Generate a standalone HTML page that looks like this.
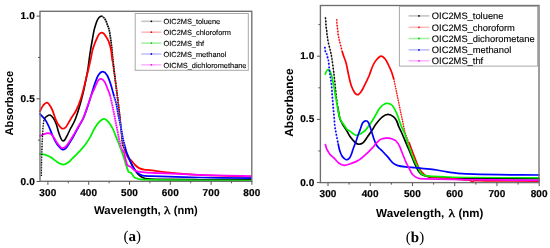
<!DOCTYPE html>
<html><head><meta charset="utf-8"><style>
html,body{margin:0;padding:0;background:#fff;width:550px;height:248px;overflow:hidden}
svg{display:block;will-change:transform;text-rendering:geometricPrecision}
.tl{font-family:"Liberation Sans",sans-serif;font-weight:bold;fill:#000;stroke:#000;stroke-width:0.2;letter-spacing:0.15px}
.ti{font-family:"Liberation Sans",sans-serif;font-weight:bold;fill:#000}
.lg{font-family:"Liberation Sans",sans-serif;fill:#000;stroke:#000;stroke-width:0.12}
.gk{font-family:"Liberation Serif",serif;font-weight:normal;fill:#000;stroke:#000;stroke-width:0.35}
.cap{font-family:"Liberation Serif",serif;fill:#000}
</style></head><body>
<svg width="550" height="248" viewBox="0 0 550 248">
<rect width="550" height="248" fill="#fff"/>
<path d="M44.60 118.40 C44.93 118.07 45.70 116.97 46.60 116.40 C47.50 115.83 48.83 114.65 50.00 115.00 C51.17 115.35 52.55 116.98 53.60 118.50 C54.65 120.02 55.53 122.02 56.30 124.10 C57.07 126.18 57.52 128.82 58.20 131.00 C58.88 133.18 59.72 135.60 60.40 137.20 C61.08 138.80 61.57 140.15 62.30 140.60 C63.03 141.05 63.93 140.87 64.80 139.90 C65.67 138.93 66.58 136.62 67.50 134.80 C68.42 132.98 68.92 131.80 70.30 129.00 C71.68 126.20 73.75 123.67 75.80 118.00 C77.85 112.33 80.67 102.67 82.60 95.00 C84.53 87.33 86.32 77.83 87.40 72.00 C88.48 66.17 88.58 63.62 89.10 60.00 C89.62 56.38 89.97 53.63 90.50 50.30 C91.03 46.97 91.70 43.35 92.30 40.00 C92.90 36.65 93.52 32.83 94.10 30.20 C94.68 27.57 95.25 25.90 95.80 24.20 C96.35 22.50 96.82 21.17 97.40 20.00 C97.98 18.83 98.65 17.83 99.30 17.20 C99.95 16.57 100.62 16.20 101.30 16.20" fill="none" stroke-linejoin="round" stroke="#000" stroke-width="1.6" stroke-linecap="round"/><path d="M132.30 165.80 C133.33 167.68 134.17 169.03 135.20 170.50 C136.23 171.97 137.28 173.45 138.50 174.60 C139.72 175.75 140.92 176.68 142.50 177.40 C144.08 178.12 145.08 178.57 148.00 178.90 C150.92 179.23 151.33 179.27 160.00 179.40 C168.67 179.53 184.83 179.62 200.00 179.70 C215.17 179.78 242.50 179.87 251.00 179.90" fill="none" stroke-linejoin="round" stroke="#000" stroke-width="1.6" stroke-linecap="round"/><path d="M101.30 16.20 C101.98 16.20 102.68 16.53 103.40 17.20 C104.12 17.87 104.92 18.90 105.60 20.20 C106.28 21.50 106.90 23.33 107.50 25.00 C108.10 26.67 108.65 27.70 109.20 30.20 C109.75 32.70 110.33 36.65 110.80 40.00 C111.27 43.35 111.65 46.97 112.00 50.30 C112.35 53.63 112.35 55.05 112.90 60.00 C113.45 64.95 114.52 73.67 115.30 80.00 C116.08 86.33 116.88 92.17 117.60 98.00 C118.32 103.83 119.00 109.67 119.60 115.00 C120.20 120.33 120.70 125.17 121.20 130.00 C121.70 134.83 122.08 140.92 122.60 144.00 C123.12 147.08 123.72 147.00 124.30 148.50 C124.88 150.00 125.32 151.22 126.10 153.00 C126.88 154.78 127.97 157.07 129.00 159.20 C130.03 161.33 131.27 163.92 132.30 165.80" fill="none" stroke-linejoin="round" stroke="#8a8a8a" stroke-width="1.6"/><path d="M101.30 16.20 C101.98 16.20 102.68 16.53 103.40 17.20 C104.12 17.87 104.92 18.90 105.60 20.20 C106.28 21.50 106.90 23.33 107.50 25.00 C108.10 26.67 108.65 27.70 109.20 30.20 C109.75 32.70 110.33 36.65 110.80 40.00 C111.27 43.35 111.65 46.97 112.00 50.30 C112.35 53.63 112.35 55.05 112.90 60.00 C113.45 64.95 114.52 73.67 115.30 80.00 C116.08 86.33 116.88 92.17 117.60 98.00 C118.32 103.83 119.00 109.67 119.60 115.00 C120.20 120.33 120.70 125.17 121.20 130.00 C121.70 134.83 122.08 140.92 122.60 144.00 C123.12 147.08 123.72 147.00 124.30 148.50 C124.88 150.00 125.32 151.22 126.10 153.00 C126.88 154.78 127.97 157.07 129.00 159.20 C130.03 161.33 131.27 163.92 132.30 165.80" fill="none" stroke-linejoin="round" stroke="#000" stroke-width="1.6" stroke-dasharray="1.3 1.1" stroke-dashoffset="0"/>

<path d="M40.00 111.20 C40.53 110.25 42.00 106.93 43.20 105.50 C44.40 104.07 45.75 102.02 47.20 102.60 C48.65 103.18 50.47 106.15 51.90 109.00 C53.33 111.85 54.73 117.10 55.80 119.70 C56.87 122.30 57.30 123.13 58.30 124.60 C59.30 126.07 60.63 128.00 61.80 128.50 C62.97 129.00 64.25 128.42 65.30 127.60 C66.35 126.78 67.02 125.33 68.10 123.60 C69.18 121.87 70.47 119.38 71.80 117.20 C73.13 115.02 74.57 113.67 76.10 110.50 C77.63 107.33 79.38 103.28 81.00 98.20 C82.62 93.12 84.28 86.03 85.80 80.00 C87.32 73.97 88.98 66.95 90.10 62.00 C91.22 57.05 91.82 53.13 92.50 50.30 C93.18 47.47 93.60 46.68 94.20 45.00 C94.80 43.32 95.43 41.77 96.10 40.20 C96.77 38.63 97.55 36.73 98.20 35.60 C98.85 34.47 99.40 33.88 100.00 33.40 C100.60 32.92 101.17 32.67 101.80 32.70 C102.43 32.73 103.13 33.02 103.80 33.60 C104.47 34.18 105.07 35.07 105.80 36.20 C106.53 37.33 107.53 38.93 108.20 40.40 C108.87 41.87 109.32 43.35 109.80 45.00 C110.28 46.65 110.68 47.80 111.10 50.30 C111.52 52.80 111.62 55.05 112.30 60.00" fill="none" stroke-linejoin="round" stroke="#ff0000" stroke-width="1.75" stroke-linecap="round"/><path d="M125.20 150.00 C126.03 152.67 126.87 155.23 127.90 157.00 C128.93 158.77 130.20 159.27 131.40 160.60 C132.60 161.93 133.82 163.75 135.10 165.00 C136.38 166.25 137.58 167.33 139.10 168.10 C140.62 168.87 142.05 169.22 144.20 169.60 C146.35 169.98 147.70 169.88 152.00 170.40 C156.30 170.92 162.00 171.93 170.00 172.70 C178.00 173.47 186.50 174.33 200.00 175.00 C213.50 175.67 242.50 176.42 251.00 176.70" fill="none" stroke-linejoin="round" stroke="#ff0000" stroke-width="1.75" stroke-linecap="round"/><path d="M112.30 60.00 C112.98 64.95 114.32 73.67 115.20 80.00 C116.08 86.33 116.87 92.17 117.60 98.00 C118.33 103.83 119.00 109.67 119.60 115.00 C120.20 120.33 120.65 125.67 121.20 130.00 C121.75 134.33 122.23 137.67 122.90 141.00 C123.57 144.33 124.37 147.33 125.20 150.00" fill="none" stroke-linejoin="round" stroke="#ff0000" stroke-width="1.7" stroke-dasharray="1.2 1.3" stroke-dashoffset="0"/>

<path d="M40.00 154.00 C40.58 154.07 42.42 154.18 43.50 154.40 C44.58 154.62 45.42 154.90 46.50 155.30 C47.58 155.70 48.75 156.08 50.00 156.80 C51.25 157.52 52.67 158.63 54.00 159.60 C55.33 160.57 56.43 161.77 58.00 162.60 C59.57 163.43 61.73 164.60 63.40 164.60 C65.07 164.60 66.57 163.55 68.00 162.60 C69.43 161.65 70.02 160.85 72.00 158.90 C73.98 156.95 77.73 153.22 79.90 150.90 C82.07 148.58 83.32 147.25 85.00 145.00 C86.68 142.75 88.47 140.07 90.00 137.40 C91.53 134.73 92.78 131.45 94.20 129.00 C95.62 126.55 96.85 124.38 98.50 122.70 C100.15 121.02 102.47 119.03 104.10 118.90 C105.73 118.77 106.88 120.33 108.30 121.90 C109.72 123.47 111.30 125.82 112.60 128.30 C113.90 130.78 115.05 134.20 116.10 136.80 C117.15 139.40 118.12 141.87 118.90 143.90 C119.68 145.93 120.15 147.23 120.80 149.00 C121.45 150.77 122.20 152.75 122.80 154.50 C123.40 156.25 123.88 157.83 124.40 159.50 C124.92 161.17 125.42 162.98 125.90 164.50 C126.38 166.02 126.82 167.35 127.30 168.60 C127.78 169.85 128.08 171.22 128.80 172.00 C129.52 172.78 130.85 172.62 131.60 173.30 C132.35 173.98 132.68 175.33 133.30 176.10 C133.92 176.87 134.17 177.37 135.30 177.90 C136.43 178.43 137.32 178.98 140.10 179.30 C142.88 179.62 142.02 179.63 152.00 179.80 C161.98 179.97 183.50 180.18 200.00 180.30 C216.50 180.42 242.50 180.47 251.00 180.50" fill="none" stroke="#00f000" stroke-width="1.75" stroke-linejoin="round" stroke-linecap="round"/>

<path d="M40.00 114.00 C40.50 114.52 41.98 115.92 43.00 117.10 C44.02 118.28 45.08 119.43 46.10 121.10 C47.12 122.77 48.18 125.08 49.10 127.10 C50.02 129.12 50.65 131.00 51.60 133.20 C52.55 135.40 53.73 138.27 54.80 140.30 C55.87 142.33 56.78 143.87 58.00 145.40 C59.22 146.93 60.73 149.08 62.10 149.50 C63.47 149.92 64.37 149.98 66.20 147.90 C68.03 145.82 71.05 140.48 73.10 137.00 C75.15 133.52 76.80 130.12 78.50 127.00 C80.20 123.88 81.80 121.63 83.30 118.30 C84.80 114.97 86.17 110.88 87.50 107.00 C88.83 103.12 90.05 98.98 91.30 95.00 C92.55 91.02 93.78 86.48 95.00 83.10 C96.22 79.72 97.28 76.60 98.60 74.70 C99.92 72.80 101.48 71.60 102.90 71.70 C104.32 71.80 105.80 73.20 107.10 75.30 C108.40 77.40 109.60 81.02 110.70 84.30 C111.80 87.58 112.77 91.72 113.70 95.00" fill="none" stroke-linejoin="round" stroke="#0000ff" stroke-width="1.75" stroke-linecap="round"/><path d="M125.00 146.50 C125.52 148.43 125.75 149.97 126.50 152.10 C127.25 154.23 128.48 156.98 129.50 159.30 C130.52 161.62 131.67 164.20 132.60 166.00 C133.53 167.80 134.18 168.92 135.10 170.10 C136.02 171.28 136.92 172.23 138.10 173.10 C139.28 173.97 139.88 174.78 142.20 175.30 C144.52 175.82 142.37 175.83 152.00 176.20 C161.63 176.57 183.50 177.18 200.00 177.50 C216.50 177.82 242.50 178.00 251.00 178.10" fill="none" stroke-linejoin="round" stroke="#0000ff" stroke-width="1.75" stroke-linecap="round"/><path d="M113.70 95.00 C114.63 98.28 115.50 100.50 116.30 104.00 C117.10 107.50 117.83 112.65 118.50 116.00 C119.17 119.35 119.73 121.27 120.30 124.10 C120.87 126.93 121.38 130.27 121.90 133.00 C122.42 135.73 122.88 138.25 123.40 140.50 C123.92 142.75 124.48 144.57 125.00 146.50" fill="none" stroke-linejoin="round" stroke="#9090ff" stroke-width="1.7"/><path d="M113.70 95.00 C114.63 98.28 115.50 100.50 116.30 104.00 C117.10 107.50 117.83 112.65 118.50 116.00 C119.17 119.35 119.73 121.27 120.30 124.10 C120.87 126.93 121.38 130.27 121.90 133.00 C122.42 135.73 122.88 138.25 123.40 140.50 C123.92 142.75 124.48 144.57 125.00 146.50" fill="none" stroke-linejoin="round" stroke="#0000ff" stroke-width="1.7" stroke-dasharray="1.3 1.0" stroke-dashoffset="0"/>

<path d="M40.00 135.90 C40.67 135.62 42.75 134.65 44.00 134.20 C45.25 133.75 46.33 133.23 47.50 133.20 C48.67 133.17 50.05 133.43 51.00 134.00 C51.95 134.57 52.43 135.52 53.20 136.60 C53.97 137.68 54.80 139.27 55.60 140.50 C56.40 141.73 56.92 142.73 58.00 144.00 C59.08 145.27 60.73 147.75 62.10 148.10 C63.47 148.45 64.37 148.15 66.20 146.10 C68.03 144.05 71.05 139.12 73.10 135.80 C75.15 132.48 76.80 129.17 78.50 126.20 C80.20 123.23 81.80 121.32 83.30 118.00 C84.80 114.68 86.13 110.13 87.50 106.30 C88.87 102.47 90.25 98.15 91.50 95.00 C92.75 91.85 93.92 89.78 95.00 87.40 C96.08 85.02 97.00 82.12 98.00 80.70 C99.00 79.28 99.88 78.70 101.00 78.90 C102.12 79.10 103.58 80.18 104.70 81.90 C105.82 83.62 106.80 86.93 107.70 89.20 C108.60 91.47 109.17 92.03 110.10 95.50" fill="none" stroke-linejoin="round" stroke="#ff00ff" stroke-width="1.75" stroke-linecap="round"/><path d="M122.30 150.00 C122.87 151.17 123.40 150.73 124.00 152.50 C124.60 154.27 125.28 158.45 125.90 160.60 C126.52 162.75 126.83 164.32 127.70 165.40 C128.57 166.48 130.03 166.32 131.10 167.10 C132.17 167.88 132.93 169.35 134.10 170.10 C135.27 170.85 136.42 171.23 138.10 171.60 C139.78 171.97 141.88 172.10 144.20 172.30 C146.52 172.50 142.70 172.37 152.00 172.80 C161.30 173.23 183.50 174.35 200.00 174.90 C216.50 175.45 242.50 175.90 251.00 176.10" fill="none" stroke-linejoin="round" stroke="#ff00ff" stroke-width="1.75" stroke-linecap="round"/><path d="M110.10 95.50 C111.03 98.97 112.30 105.23 113.30 110.00 C114.30 114.77 115.17 119.40 116.10 124.10 C117.03 128.80 118.15 134.63 118.90 138.20 C119.65 141.77 120.03 143.53 120.60 145.50 C121.17 147.47 121.73 148.83 122.30 150.00" fill="none" stroke-linejoin="round" stroke="#ff90ff" stroke-width="1.7"/><path d="M110.10 95.50 C111.03 98.97 112.30 105.23 113.30 110.00 C114.30 114.77 115.17 119.40 116.10 124.10 C117.03 128.80 118.15 134.63 118.90 138.20 C119.65 141.77 120.03 143.53 120.60 145.50 C121.17 147.47 121.73 148.83 122.30 150.00" fill="none" stroke-linejoin="round" stroke="#ff00ff" stroke-width="1.7" stroke-dasharray="1.3 1.0" stroke-dashoffset="0"/>

<path d="M41.40 176.00 C41.42 174.17 41.42 169.33 41.50 165.00 C41.58 160.67 41.75 154.50 41.90 150.00 C42.05 145.50 42.22 141.67 42.40 138.00 C42.58 134.33 42.78 130.75 43.00 128.00 C43.22 125.25 43.43 123.10 43.70 121.50 C43.97 119.90 44.45 118.92 44.60 118.40" fill="none" stroke="#000" stroke-width="1" stroke-opacity="0.3"/><path d="M41.40 176.00 C41.42 174.17 41.42 169.33 41.50 165.00 C41.58 160.67 41.75 154.50 41.90 150.00 C42.05 145.50 42.22 141.67 42.40 138.00 C42.58 134.33 42.78 130.75 43.00 128.00 C43.22 125.25 43.43 123.10 43.70 121.50 C43.97 119.90 44.45 118.92 44.60 118.40" fill="none" stroke="#000" stroke-width="1.4" stroke-dasharray="1.1 1.5" stroke-linecap="butt"/>

<rect x="40.00" y="11.30" width="211.80" height="170.00" fill="none" stroke="#6e6e6e" stroke-width="1.35"/>

<line x1="47.90" y1="181.30" x2="47.90" y2="184.80" stroke="#555" stroke-width="1"/><text x="47.90" y="195.60" text-anchor="middle" class="tl" font-size="10">300</text><line x1="88.70" y1="181.30" x2="88.70" y2="184.80" stroke="#555" stroke-width="1"/><text x="88.70" y="195.60" text-anchor="middle" class="tl" font-size="10">400</text><line x1="129.50" y1="181.30" x2="129.50" y2="184.80" stroke="#555" stroke-width="1"/><text x="129.50" y="195.60" text-anchor="middle" class="tl" font-size="10">500</text><line x1="170.30" y1="181.30" x2="170.30" y2="184.80" stroke="#555" stroke-width="1"/><text x="170.30" y="195.60" text-anchor="middle" class="tl" font-size="10">600</text><line x1="211.10" y1="181.30" x2="211.10" y2="184.80" stroke="#555" stroke-width="1"/><text x="211.10" y="195.60" text-anchor="middle" class="tl" font-size="10">700</text><line x1="251.90" y1="181.30" x2="251.90" y2="184.80" stroke="#555" stroke-width="1"/><text x="251.90" y="195.60" text-anchor="middle" class="tl" font-size="10">800</text><line x1="68.30" y1="181.30" x2="68.30" y2="183.30" stroke="#555" stroke-width="1"/><line x1="109.10" y1="181.30" x2="109.10" y2="183.30" stroke="#555" stroke-width="1"/><line x1="149.90" y1="181.30" x2="149.90" y2="183.30" stroke="#555" stroke-width="1"/><line x1="190.70" y1="181.30" x2="190.70" y2="183.30" stroke="#555" stroke-width="1"/><line x1="231.50" y1="181.30" x2="231.50" y2="183.30" stroke="#555" stroke-width="1"/><line x1="36.50" y1="181.50" x2="40.00" y2="181.50" stroke="#555" stroke-width="1"/><text x="34.90" y="184.50" text-anchor="end" class="tl" font-size="10">0.0</text><line x1="36.50" y1="98.80" x2="40.00" y2="98.80" stroke="#555" stroke-width="1"/><text x="34.90" y="101.80" text-anchor="end" class="tl" font-size="10">0.5</text><line x1="36.50" y1="16.10" x2="40.00" y2="16.10" stroke="#555" stroke-width="1"/><text x="34.90" y="19.10" text-anchor="end" class="tl" font-size="10">1.0</text><line x1="38.00" y1="140.15" x2="40.00" y2="140.15" stroke="#555" stroke-width="1"/><line x1="38.00" y1="57.45" x2="40.00" y2="57.45" stroke="#555" stroke-width="1"/>

<rect x="135.20" y="13.50" width="113.10" height="56.80" fill="#fff" stroke="#a8a8a8" stroke-width="1"/>
<line x1="141.30" y1="21.30" x2="161.40" y2="21.30" stroke="#c4c4c4" stroke-width="1.6"/><circle cx="151.35" cy="21.30" r="0.9" fill="#000"/><text x="163.50" y="24.30" class="lg" font-size="7.4">OIC2MS_toluene</text>
<line x1="141.30" y1="32.20" x2="161.40" y2="32.20" stroke="#ffbcbc" stroke-width="1.6"/><circle cx="151.35" cy="32.20" r="0.9" fill="#f00"/><text x="163.50" y="35.20" class="lg" font-size="7.4">OIC2MS_chloroform</text>
<line x1="141.30" y1="43.10" x2="161.40" y2="43.10" stroke="#a4f0a4" stroke-width="1.6"/><circle cx="151.35" cy="43.10" r="0.9" fill="#0c0"/><text x="163.50" y="46.10" class="lg" font-size="7.4">OIC2MS_thf</text>
<line x1="141.30" y1="54.00" x2="161.40" y2="54.00" stroke="#c0c0ff" stroke-width="1.6"/><circle cx="151.35" cy="54.00" r="0.9" fill="#00f"/><text x="163.50" y="57.00" class="lg" font-size="7.4">OIC2MS_methanol</text>
<line x1="141.30" y1="64.80" x2="161.40" y2="64.80" stroke="#ffb6ff" stroke-width="1.6"/><circle cx="151.35" cy="64.80" r="0.9" fill="#f0f"/><text x="163.50" y="67.80" class="lg" font-size="7.4">OICMS_dichloromethane</text>

<path d="M325.40 17.40 C325.47 18.02 325.70 19.68 325.80 21.10 C325.90 22.52 325.85 24.30 326.00 25.90 C326.15 27.50 326.53 29.28 326.70 30.70 C326.87 32.12 326.85 33.18 327.00 34.40 C327.15 35.62 327.40 36.73 327.60 38.00 C327.80 39.27 327.85 40.32 328.20 42.00 C328.55 43.68 329.32 46.55 329.70 48.10 C330.08 49.65 330.23 50.17 330.50 51.30 C330.77 52.43 331.07 53.70 331.30 54.90 C331.53 56.10 331.65 56.82 331.90 58.50 C332.15 60.18 332.50 62.75 332.80 65.00 C333.10 67.25 333.40 69.50 333.70 72.00 C334.00 74.50 334.27 76.85 334.60 80.00 C334.93 83.15 335.37 87.73 335.70 90.90 C336.03 94.07 336.27 96.30 336.60 99.00 C336.93 101.70 337.52 105.75 337.70 107.10" fill="none" stroke="#000" stroke-width="1" stroke-opacity="0.45"/><path d="M325.40 17.40 C325.47 18.02 325.70 19.68 325.80 21.10 C325.90 22.52 325.85 24.30 326.00 25.90 C326.15 27.50 326.53 29.28 326.70 30.70 C326.87 32.12 326.85 33.18 327.00 34.40 C327.15 35.62 327.40 36.73 327.60 38.00 C327.80 39.27 327.85 40.32 328.20 42.00 C328.55 43.68 329.32 46.55 329.70 48.10 C330.08 49.65 330.23 50.17 330.50 51.30 C330.77 52.43 331.07 53.70 331.30 54.90 C331.53 56.10 331.65 56.82 331.90 58.50 C332.15 60.18 332.50 62.75 332.80 65.00 C333.10 67.25 333.40 69.50 333.70 72.00 C334.00 74.50 334.27 76.85 334.60 80.00 C334.93 83.15 335.37 87.73 335.70 90.90 C336.03 94.07 336.27 96.30 336.60 99.00 C336.93 101.70 337.52 105.75 337.70 107.10" fill="none" stroke="#000" stroke-width="1.5" stroke-dasharray="1.5 1.7" stroke-linecap="butt"/>

<path d="M337.70 107.10 C337.90 108.25 338.50 111.98 338.90 114.00 C339.30 116.02 339.40 117.37 340.10 119.20 C340.80 121.03 341.95 123.02 343.10 125.00 C344.25 126.98 345.85 129.18 347.00 131.10 C348.15 133.02 348.70 134.67 350.00 136.50 C351.30 138.33 353.45 140.82 354.80 142.10 C356.15 143.38 356.75 144.07 358.10 144.20 C359.45 144.33 361.30 144.18 362.90 142.90 C364.50 141.62 366.08 138.73 367.70 136.50 C369.32 134.27 371.22 131.58 372.60 129.50 C373.98 127.42 374.37 126.12 376.00 124.00 C377.63 121.88 380.38 118.40 382.40 116.80 C384.42 115.20 386.22 114.40 388.10 114.40 C389.98 114.40 392.27 115.70 393.70 116.80 C395.13 117.90 395.87 119.38 396.70 121.00 C397.53 122.62 397.97 124.75 398.70 126.50 C399.43 128.25 400.30 129.75 401.10 131.50 C401.90 133.25 402.68 135.10 403.50 137.00 C404.32 138.90 405.18 140.98 406.00 142.90 C406.82 144.82 407.60 146.62 408.40 148.50 C409.20 150.38 410.00 152.28 410.80 154.20 C411.60 156.12 412.40 158.12 413.20 160.00 C414.00 161.88 414.80 163.78 415.60 165.50 C416.40 167.22 417.08 168.85 418.00 170.30 C418.92 171.75 419.93 173.30 421.10 174.20 C422.27 175.10 423.65 175.23 425.00 175.70 C426.35 176.17 425.87 176.65 429.20 177.00 C432.53 177.35 439.03 177.58 445.00 177.80 C450.97 178.02 449.33 178.15 465.00 178.30 C480.67 178.45 526.67 178.63 539.00 178.70" fill="none" stroke="#000" stroke-width="1.7" stroke-linejoin="round" stroke-linecap="round"/>

<path d="M336.70 19.30 C336.73 20.00 336.80 22.20 336.90 23.50 C337.00 24.80 337.15 25.90 337.30 27.10 C337.45 28.30 337.67 29.48 337.80 30.70 C337.93 31.92 337.95 33.28 338.10 34.40 C338.25 35.52 338.50 36.38 338.70 37.40 C338.90 38.42 338.98 39.23 339.30 40.50 C339.62 41.77 340.12 43.17 340.60 45.00 C341.08 46.83 341.93 50.42 342.20 51.50" fill="none" stroke="#ff0000" stroke-width="1" stroke-opacity="0.45"/><path d="M336.70 19.30 C336.73 20.00 336.80 22.20 336.90 23.50 C337.00 24.80 337.15 25.90 337.30 27.10 C337.45 28.30 337.67 29.48 337.80 30.70 C337.93 31.92 337.95 33.28 338.10 34.40 C338.25 35.52 338.50 36.38 338.70 37.40 C338.90 38.42 338.98 39.23 339.30 40.50 C339.62 41.77 340.12 43.17 340.60 45.00 C341.08 46.83 341.93 50.42 342.20 51.50" fill="none" stroke="#ff0000" stroke-width="1.5" stroke-dasharray="1.3 1.6" stroke-linecap="butt"/>

<path d="M342.20 51.50 C342.50 52.42 343.40 55.25 344.00 57.00 C344.60 58.75 345.27 60.17 345.80 62.00 C346.33 63.83 346.73 65.83 347.20 68.00 C347.67 70.17 348.13 72.83 348.60 75.00 C349.07 77.17 349.52 79.12 350.00 81.00 C350.48 82.88 350.80 84.47 351.50 86.30 C352.20 88.13 353.42 90.67 354.20 92.00 C354.98 93.33 355.53 93.87 356.20 94.30 C356.87 94.73 357.48 94.90 358.20 94.60 C358.92 94.30 359.70 93.52 360.50 92.50 C361.30 91.48 362.08 90.20 363.00 88.50 C363.92 86.80 364.97 84.47 366.00 82.30 C367.03 80.13 368.08 78.22 369.20 75.50 C370.32 72.78 371.48 68.62 372.70 66.00 C373.92 63.38 375.10 61.45 376.50 59.80 C377.90 58.15 379.65 56.23 381.10 56.10 C382.55 55.97 383.90 57.38 385.20 59.00 C386.50 60.62 387.87 63.72 388.90 65.80 C389.93 67.88 390.60 69.35 391.40 71.50 C392.20 73.65 393.32 77.50 393.70 78.70" fill="none" stroke="#ff0000" stroke-width="1.7" stroke-linejoin="round" stroke-linecap="round"/>

<path d="M393.70 78.70 C393.98 80.00 394.83 83.78 395.40 86.50 C395.97 89.22 396.48 92.00 397.10 95.00 C397.72 98.00 398.43 101.27 399.10 104.50 C399.77 107.73 400.48 111.48 401.10 114.40 C401.72 117.32 402.25 119.40 402.80 122.00 C403.35 124.60 403.87 127.78 404.40 130.00 C404.93 132.22 405.47 133.72 406.00 135.30 C406.53 136.88 407.07 138.23 407.60 139.50 C408.13 140.77 408.93 142.33 409.20 142.90" fill="none" stroke="#ff0000" stroke-width="1" stroke-opacity="0.45"/><path d="M393.70 78.70 C393.98 80.00 394.83 83.78 395.40 86.50 C395.97 89.22 396.48 92.00 397.10 95.00 C397.72 98.00 398.43 101.27 399.10 104.50 C399.77 107.73 400.48 111.48 401.10 114.40 C401.72 117.32 402.25 119.40 402.80 122.00 C403.35 124.60 403.87 127.78 404.40 130.00 C404.93 132.22 405.47 133.72 406.00 135.30 C406.53 136.88 407.07 138.23 407.60 139.50 C408.13 140.77 408.93 142.33 409.20 142.90" fill="none" stroke="#ff0000" stroke-width="1.3" stroke-dasharray="1.2 1.2" stroke-linecap="butt"/>

<path d="M409.20 142.90 C409.60 144.00 410.80 147.35 411.60 149.50 C412.40 151.65 413.20 153.72 414.00 155.80 C414.80 157.88 415.62 160.02 416.40 162.00 C417.18 163.98 417.85 166.07 418.70 167.70 C419.55 169.33 420.28 170.45 421.50 171.80 C422.72 173.15 424.42 174.97 426.00 175.80 C427.58 176.63 429.12 176.53 431.00 176.80 C432.88 177.07 434.13 177.10 437.30 177.40 C440.47 177.70 445.38 178.20 450.00 178.60 C454.62 179.00 461.67 179.52 465.00 179.80 C468.33 180.08 468.77 179.88 470.00 180.30 C471.23 180.72 471.65 182.25 472.40 182.30 C473.15 182.35 471.57 180.85 474.50 180.60 C477.43 180.35 479.25 180.70 490.00 180.80 C500.75 180.90 530.83 181.13 539.00 181.20" fill="none" stroke="#ff0000" stroke-width="1.7" stroke-linejoin="round" stroke-linecap="round"/>

<path d="M325.30 74.20 C325.48 73.73 325.92 72.17 326.40 71.40 C326.88 70.63 327.60 69.58 328.20 69.60 C328.80 69.62 329.45 70.60 330.00 71.50 C330.55 72.40 331.05 73.50 331.50 75.00 C331.95 76.50 332.27 78.38 332.70 80.50 C333.13 82.62 333.67 85.28 334.10 87.70 C334.53 90.12 334.80 92.17 335.30 95.00 C335.80 97.83 336.40 101.07 337.10 104.70 C337.80 108.33 338.77 114.00 339.50 116.80 C340.23 119.60 340.78 120.18 341.50 121.50 C342.22 122.82 342.88 123.40 343.80 124.70 C344.72 126.00 345.92 128.18 347.00 129.30 C348.08 130.42 349.25 130.65 350.30 131.40 C351.35 132.15 352.38 133.17 353.30 133.80 C354.22 134.43 354.93 135.05 355.80 135.20 C356.67 135.35 357.32 135.20 358.50 134.70 C359.68 134.20 361.63 133.08 362.90 132.20 C364.17 131.32 364.62 131.18 366.10 129.40 C367.58 127.62 370.18 123.93 371.80 121.50 C373.42 119.07 374.52 116.97 375.80 114.80 C377.08 112.63 378.22 110.20 379.50 108.50 C380.78 106.80 382.20 105.45 383.50 104.60 C384.80 103.75 385.83 103.25 387.30 103.40 C388.77 103.55 390.67 103.67 392.30 105.50 C393.93 107.33 395.63 111.05 397.10 114.40 C398.57 117.75 399.75 122.17 401.10 125.60 C402.45 129.03 404.12 132.12 405.20 135.00 C406.28 137.88 406.80 140.50 407.60 142.90 C408.40 145.30 409.20 147.25 410.00 149.40 C410.80 151.55 411.60 153.78 412.40 155.80 C413.20 157.82 414.02 159.78 414.80 161.50 C415.58 163.22 416.32 164.55 417.10 166.10 C417.88 167.65 418.70 169.45 419.50 170.80 C420.30 172.15 420.98 173.42 421.90 174.20 C422.82 174.98 423.78 175.18 425.00 175.50 C426.22 175.82 425.82 175.88 429.20 176.10 C432.58 176.32 439.33 176.58 445.30 176.80" fill="none" stroke-linejoin="round" stroke="#00f000" stroke-width="1.7" stroke-linecap="round"/><path d="M445.30 176.80 C451.27 177.02 449.38 177.25 465.00 177.40 C480.62 177.55 526.67 177.65 539.00 177.70" fill="none" stroke-linejoin="round" stroke="#00f000" stroke-width="1.35" stroke-dasharray="1000 0" stroke-dashoffset="0"/>

<path d="M324.80 46.90 C324.87 47.50 325.00 49.43 325.20 50.50 C325.40 51.57 325.65 52.57 326.00 53.30 C326.35 54.03 327.02 53.88 327.30 54.90 C327.58 55.92 327.50 58.38 327.70 59.40 C327.90 60.42 328.23 59.40 328.50 61.00 C328.77 62.60 329.03 66.58 329.30 69.00 C329.57 71.42 329.83 73.67 330.10 75.50 C330.37 77.33 330.63 78.00 330.90 80.00 C331.17 82.00 331.48 85.00 331.70 87.50 C331.92 90.00 332.02 92.58 332.20 95.00 C332.38 97.42 332.60 99.58 332.80 102.00 C333.00 104.42 333.18 107.08 333.40 109.50 C333.62 111.92 333.88 113.92 334.10 116.50 C334.32 119.08 334.43 122.57 334.70 125.00 C334.97 127.43 335.33 129.02 335.70 131.10 C336.07 133.18 336.48 135.35 336.90 137.50 C337.32 139.65 337.98 142.92 338.20 144.00" fill="none" stroke="#0000ff" stroke-width="1" stroke-opacity="0.25"/><path d="M324.80 46.90 C324.87 47.50 325.00 49.43 325.20 50.50 C325.40 51.57 325.65 52.57 326.00 53.30 C326.35 54.03 327.02 53.88 327.30 54.90 C327.58 55.92 327.50 58.38 327.70 59.40 C327.90 60.42 328.23 59.40 328.50 61.00 C328.77 62.60 329.03 66.58 329.30 69.00 C329.57 71.42 329.83 73.67 330.10 75.50 C330.37 77.33 330.63 78.00 330.90 80.00 C331.17 82.00 331.48 85.00 331.70 87.50 C331.92 90.00 332.02 92.58 332.20 95.00 C332.38 97.42 332.60 99.58 332.80 102.00 C333.00 104.42 333.18 107.08 333.40 109.50 C333.62 111.92 333.88 113.92 334.10 116.50 C334.32 119.08 334.43 122.57 334.70 125.00 C334.97 127.43 335.33 129.02 335.70 131.10 C336.07 133.18 336.48 135.35 336.90 137.50 C337.32 139.65 337.98 142.92 338.20 144.00" fill="none" stroke="#0000ff" stroke-width="1.7" stroke-dasharray="1.6 1.8" stroke-linecap="butt"/>

<path d="M338.20 144.00 C338.40 144.92 339.00 148.00 339.40 149.50 C339.80 151.00 340.17 151.92 340.60 153.00 C341.03 154.08 341.47 155.13 342.00 156.00 C342.53 156.87 343.10 157.58 343.80 158.20 C344.50 158.82 345.50 159.52 346.20 159.70 C346.90 159.88 347.42 159.62 348.00 159.30 C348.58 158.98 349.15 158.60 349.70 157.80 C350.25 157.00 350.78 155.80 351.30 154.50 C351.82 153.20 352.25 151.58 352.80 150.00 C353.35 148.42 353.98 146.67 354.60 145.00 C355.22 143.33 355.92 141.67 356.50 140.00 C357.08 138.33 357.53 136.60 358.10 135.00 C358.67 133.40 359.37 131.87 359.90 130.40 C360.43 128.93 360.85 127.43 361.30 126.20 C361.75 124.97 362.08 123.83 362.60 123.00 C363.12 122.17 363.85 121.57 364.40 121.20 C364.95 120.83 365.43 120.80 365.90 120.80 C366.37 120.80 366.73 120.80 367.20 121.20 C367.67 121.60 368.18 122.15 368.70 123.20 C369.22 124.25 369.77 125.95 370.30 127.50 C370.83 129.05 371.25 130.47 371.90 132.50 C372.55 134.53 373.42 137.57 374.20 139.70 C374.98 141.83 375.72 143.83 376.60 145.30 C377.48 146.77 378.55 147.55 379.50 148.50 C380.45 149.45 381.38 150.08 382.30 151.00 C383.22 151.92 384.02 152.93 385.00 154.00 C385.98 155.07 386.85 155.87 388.20 157.40 C389.55 158.93 391.48 161.83 393.10 163.20 C394.72 164.57 395.75 164.98 397.90 165.60 C400.05 166.22 402.32 166.47 406.00 166.90 C409.68 167.33 415.33 167.75 420.00 168.20 C424.67 168.65 430.33 169.13 434.00 169.60 C437.67 170.07 439.33 170.55 442.00 171.00 C444.67 171.45 447.33 171.92 450.00 172.30 C452.67 172.68 455.33 173.03 458.00 173.30 C460.67 173.57 462.33 173.72 466.00 173.90 C469.67 174.08 472.67 174.25 480.00 174.40 C487.33 174.55 500.17 174.70 510.00 174.80 C519.83 174.90 534.17 174.97 539.00 175.00" fill="none" stroke="#0000ff" stroke-width="1.7" stroke-linejoin="round" stroke-linecap="round"/>

<path d="M325.40 144.50 C325.58 145.17 326.12 147.45 326.50 148.50 C326.88 149.55 327.10 149.78 327.70 150.80 C328.30 151.82 329.03 153.38 330.10 154.60 C331.17 155.82 332.62 156.67 334.10 158.10 C335.58 159.53 337.25 162.00 339.00 163.20 C340.75 164.40 342.72 165.20 344.60 165.30 C346.48 165.40 348.05 164.58 350.30 163.80 C352.55 163.02 355.47 162.20 358.10 160.60 C360.73 159.00 363.68 156.35 366.10 154.20 C368.52 152.05 370.98 149.45 372.60 147.70 C374.22 145.95 374.60 145.00 375.80 143.70 C377.00 142.40 378.60 140.75 379.80 139.90 C381.00 139.05 382.05 138.90 383.00 138.60 C383.95 138.30 384.50 138.17 385.50 138.10 C386.50 138.03 388.00 138.08 389.00 138.20 C390.00 138.32 390.67 138.53 391.50 138.80 C392.33 139.07 393.20 139.38 394.00 139.80 C394.80 140.22 395.38 140.25 396.30 141.30 C397.22 142.35 398.43 143.95 399.50 146.10 C400.57 148.25 401.62 151.50 402.70 154.20 C403.78 156.90 405.08 160.25 406.00 162.30 C406.92 164.35 407.45 165.05 408.20 166.50 C408.95 167.95 409.68 169.58 410.50 171.00 C411.32 172.42 411.87 173.83 413.10 175.00 C414.33 176.17 416.02 177.37 417.90 178.00 C419.78 178.63 416.55 178.53 424.40 178.80 C432.25 179.07 445.90 179.35 465.00 179.60 C484.10 179.85 526.67 180.18 539.00 180.30" fill="none" stroke="#ff00ff" stroke-width="1.7" stroke-linejoin="round" stroke-linecap="round"/>

<rect x="320.40" y="5.50" width="218.60" height="177.10" fill="none" stroke="#6e6e6e" stroke-width="1.35"/>

<line x1="328.00" y1="182.60" x2="328.00" y2="186.10" stroke="#555" stroke-width="1"/><text x="328.00" y="197.00" text-anchor="middle" class="tl" font-size="10">300</text><line x1="370.24" y1="182.60" x2="370.24" y2="186.10" stroke="#555" stroke-width="1"/><text x="370.24" y="197.00" text-anchor="middle" class="tl" font-size="10">400</text><line x1="412.48" y1="182.60" x2="412.48" y2="186.10" stroke="#555" stroke-width="1"/><text x="412.48" y="197.00" text-anchor="middle" class="tl" font-size="10">500</text><line x1="454.72" y1="182.60" x2="454.72" y2="186.10" stroke="#555" stroke-width="1"/><text x="454.72" y="197.00" text-anchor="middle" class="tl" font-size="10">600</text><line x1="496.96" y1="182.60" x2="496.96" y2="186.10" stroke="#555" stroke-width="1"/><text x="496.96" y="197.00" text-anchor="middle" class="tl" font-size="10">700</text><line x1="539.20" y1="182.60" x2="539.20" y2="186.10" stroke="#555" stroke-width="1"/><text x="539.20" y="197.00" text-anchor="middle" class="tl" font-size="10">800</text><line x1="349.12" y1="182.60" x2="349.12" y2="184.60" stroke="#555" stroke-width="1"/><line x1="391.36" y1="182.60" x2="391.36" y2="184.60" stroke="#555" stroke-width="1"/><line x1="433.60" y1="182.60" x2="433.60" y2="184.60" stroke="#555" stroke-width="1"/><line x1="475.84" y1="182.60" x2="475.84" y2="184.60" stroke="#555" stroke-width="1"/><line x1="518.08" y1="182.60" x2="518.08" y2="184.60" stroke="#555" stroke-width="1"/><line x1="316.90" y1="182.60" x2="320.40" y2="182.60" stroke="#555" stroke-width="1"/><text x="314.50" y="185.60" text-anchor="end" class="tl" font-size="10">0.0</text><line x1="316.90" y1="119.40" x2="320.40" y2="119.40" stroke="#555" stroke-width="1"/><text x="314.50" y="122.40" text-anchor="end" class="tl" font-size="10">0.5</text><line x1="316.90" y1="56.20" x2="320.40" y2="56.20" stroke="#555" stroke-width="1"/><text x="314.50" y="59.20" text-anchor="end" class="tl" font-size="10">1.0</text><line x1="318.40" y1="151.00" x2="320.40" y2="151.00" stroke="#555" stroke-width="1"/><line x1="318.40" y1="87.80" x2="320.40" y2="87.80" stroke="#555" stroke-width="1"/><line x1="318.40" y1="24.60" x2="320.40" y2="24.60" stroke="#555" stroke-width="1"/>

<rect x="399.40" y="6.40" width="138.20" height="59.70" fill="#fff" stroke="#a8a8a8" stroke-width="1"/>
<line x1="408.60" y1="15.90" x2="429.40" y2="15.90" stroke="#c4c4c4" stroke-width="1.6"/><circle cx="419.00" cy="15.90" r="0.9" fill="#000"/><text x="431.80" y="19.40" class="lg" font-size="9.35">OIC2MS_toluene</text>
<line x1="408.60" y1="27.30" x2="429.40" y2="27.30" stroke="#ffbcbc" stroke-width="1.6"/><circle cx="419.00" cy="27.30" r="0.9" fill="#f00"/><text x="431.80" y="30.80" class="lg" font-size="9.35">OIC2MS_choroform</text>
<line x1="408.60" y1="38.50" x2="429.40" y2="38.50" stroke="#a4f0a4" stroke-width="1.6"/><circle cx="419.00" cy="38.50" r="0.9" fill="#0c0"/><text x="431.80" y="42.00" class="lg" font-size="9.35">OIC2MS_dichorometane</text>
<line x1="408.60" y1="49.90" x2="429.40" y2="49.90" stroke="#c0c0ff" stroke-width="1.6"/><circle cx="419.00" cy="49.90" r="0.9" fill="#00f"/><text x="431.80" y="53.40" class="lg" font-size="9.35">OIC2MS_methanol</text>
<line x1="408.60" y1="60.80" x2="429.40" y2="60.80" stroke="#ffb6ff" stroke-width="1.6"/><circle cx="419.00" cy="60.80" r="0.9" fill="#f0f"/><text x="431.80" y="64.30" class="lg" font-size="9.35">OIC2MS_thf</text>

<text transform="translate(12.9,103.2) rotate(-90)" text-anchor="middle" class="ti" font-size="11.2">Absorbance</text>
<text transform="translate(292.5,102.6) rotate(-90)" text-anchor="middle" class="ti" font-size="11.8">Absorbance</text>
<text x="94.0" y="213.6" class="ti" font-size="11.2" textLength="66.8" lengthAdjust="spacingAndGlyphs">Wavelength,</text>
<text transform="translate(164.0,214.1) scale(1.22,1)" class="gk" font-size="10.8">λ</text>
<text x="173.8" y="213.6" class="ti" font-size="11.4" textLength="24" lengthAdjust="spacingAndGlyphs">(nm)</text>
<text x="376.1" y="216.6" class="ti" font-size="11.6" textLength="68.2" lengthAdjust="spacingAndGlyphs">Wavelength,</text>
<text transform="translate(448.5,216.8) scale(1.22,1)" class="gk" font-size="11">λ</text>
<text x="458.4" y="216.6" class="ti" font-size="11.7" textLength="24.9" lengthAdjust="spacingAndGlyphs">(nm)</text>
<text x="123.5" y="241.2" class="cap" font-size="15">(<tspan font-weight="bold">a</tspan>)</text>
<text x="405.8" y="242.1" class="cap" font-size="15">(<tspan font-weight="bold">b</tspan>)</text>
</svg>
</body></html>
